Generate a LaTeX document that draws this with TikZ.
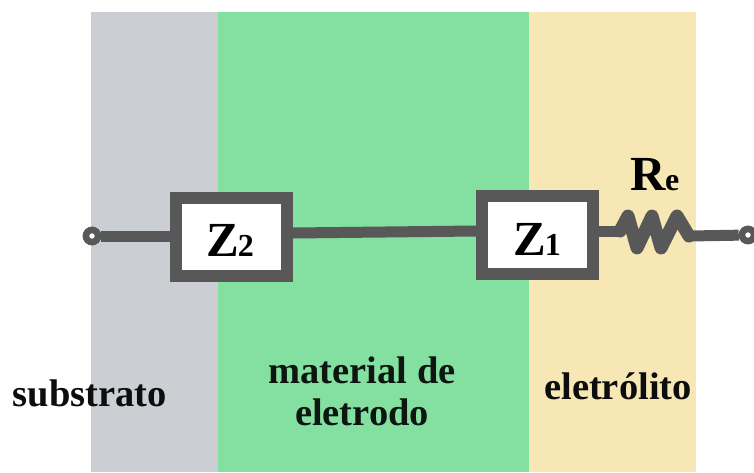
\documentclass[tikz,border=0pt]{standalone}
\usepackage{fontspec}
\setmainfont{Liberation Serif}
\definecolor{wirec}{HTML}{585858}
\definecolor{subc}{HTML}{CBCFD3}
\definecolor{matc}{HTML}{84E0A0}
\definecolor{eleC}{HTML}{F7E7B4}
\tikzset{
  panel/.style={draw=none,anchor=north west,inner sep=0pt,minimum height=460pt},
  wire/.style={draw=wirec,line width=11pt},
  zbox/.style={draw=wirec,fill=white,line width=12pt,minimum width=111pt,minimum height=78pt,inner sep=0pt},
  ztext/.style={inner sep=0pt,anchor=base,font=\fontsize{49}{49}\selectfont\bfseries},
  term/.style={circle,draw=wirec,fill=white,line width=6.5pt,minimum size=12pt,inner sep=0pt},
  lab/.style={inner sep=0pt,anchor=base,align=center,text=#1,font=\fontsize{38.5}{42}\selectfont\bfseries},
  res/.style={wire,line join=round,line cap=round,line width=13pt}
}
\newcommand{\zsub}[2]{#1\kern-1pt{\fontsize{32}{32}\selectfont#2}}
\begin{document}
\begin{tikzpicture}[x=1pt,y=-1pt]
\useasboundingbox (0,0) rectangle (754,472);
\fill[white] (0,0) rectangle (754,472);
\node[panel,fill=subc,minimum width=127pt] (psub) at (91,12) {};
\node[panel,fill=matc,minimum width=311pt] (pmat) at (218,12) {};
\node[panel,fill=eleC,minimum width=167pt] (pele) at (529,12) {};
\node[zbox] (z2) at (231.5,237) {};
\node[zbox] (z1) at (537.5,234.5) {};
\node[ztext] (tz2) at (230,256) {\zsub{Z}{2}};
\node[ztext] (tz1) at (537,255) {\zsub{Z}{1}};
\node[term] (tl) at (92,236) {};
\node[term] (tr) at (748,235) {};
\coordinate (r0) at (620,231);
\coordinate (r1) at (628,216);
\coordinate (r2) at (637,248);
\coordinate (r3) at (652,216);
\coordinate (r4) at (661,248);
\coordinate (r5) at (677,216);
\coordinate (r6) at (689,236);
\draw[wire] (tl) -- (z2.west |- tl);
\draw[wire] (z2.east |- 0,233) -- (z1.west |- 0,231);
\draw[wire] (z1.east |- r0) -- (r0);
\draw[res] (r0) -- (r1) -- (r2) -- (r3) -- (r4) -- (r5) -- (r6);
\draw[wire] (r6) -- (tr);
\node[term] at (tl) {};
\node[term] at (tr) {};
\node[ztext] (re) at (655,190) {\zsub{R}{e}};
\node[lab=black!95] (lsub) at (90,406) {substrato};
\node[lab=black!90!matc] (lmat) at (362,425) {material de\\eletrodo};
\node[lab=black!95] (lele) at (618,399) {eletrólito};
\end{tikzpicture}
\end{document}
